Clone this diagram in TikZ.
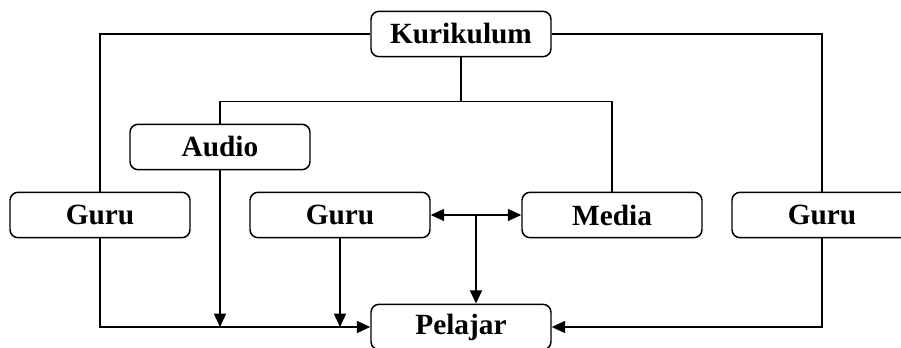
\documentclass[tikz,border=0pt]{standalone}
\usepackage{fontspec}
\setmainfont{Liberation Serif}
\usetikzlibrary{arrows.meta,calc}

\begin{document}
\begin{tikzpicture}[x=0.75pt, y=-0.75pt, >={Triangle[length=10pt,width=9pt]}, line width=1.1pt,
  box/.style={draw, rounded corners=6pt, minimum width=135pt, minimum height=34pt,
    inner sep=0pt, font=\fontsize{22}{24}\selectfont\bfseries}]
  \useasboundingbox (0,0) rectangle (901,348);

  \node[box] (kur) at (461,34) {Kurikulum};
  \node[box] (aud) at (220,147) {Audio};
  \node[box] (gl) at (100,215) {Guru};
  \node[box] (gm) at (340,215) {Guru};
  \node[box] (med) at (612,215) {Media};
  \node[box] (gr) at (822,215) {Guru};
  \node[box] (pel) at (461,327) {Pelajar};

  \coordinate (split) at ($(kur.south)+(0,44)$);
  \coordinate (mid) at ($(gm.east)!0.5!(med.west)$);

  \draw (kur.west) -| (gl.north);
  \draw (kur.east) -| (gr.north);
  \draw (kur.south) -- (split);
  \draw (aud.north) -- (aud.north |- split) -- (med.north |- split) -- (med.north);

  \draw[->] (gl.south) |- (pel.west);
  \draw[->] (aud.south) -- (aud.south |- pel.west);
  \draw[->] (gm.south) -- (gm.south |- pel.west);
  \draw[->] (gr.south) |- (pel.east);
  \draw[<->] (gm.east) -- (med.west);
  \draw[->] (mid) -- (mid |- pel.north);
\end{tikzpicture}
\end{document}
